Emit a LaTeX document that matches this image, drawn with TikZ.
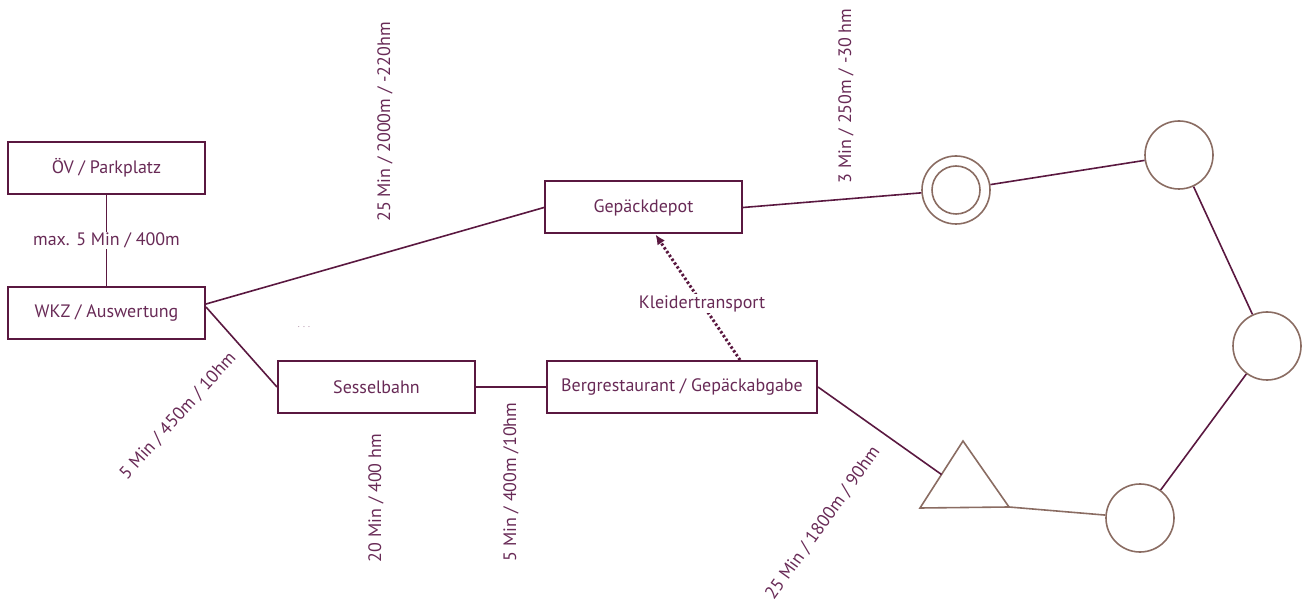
\documentclass[tikz,border=0pt]{standalone}
\usepackage{fontspec}
\setmainfont{PT Sans}
\usetikzlibrary{arrows.meta,calc,positioning}
\definecolor{wine}{RGB}{90,24,64}
\definecolor{winetext}{RGB}{104,42,86}
\definecolor{taupe}{RGB}{138,108,98}
\tikzset{
plan/.style={x=1pt,y=-1pt,line width=1.6pt,draw=wine,
font=\fontsize{18}{21}\selectfont,text=winetext},
station/.style={rectangle,draw=wine,line width=2pt,minimum width=197pt,
minimum height=52pt,inner sep=0pt},
post/.style={circle,draw=taupe,line width=1.6pt,minimum size=68pt,inner sep=0pt},
leg/.style={inner sep=1pt},
leg up/.style={leg,rotate=90},
transport/.style={line width=3pt,dash pattern=on 2.4pt off 2.2pt,
-{Latex[length=10pt,width=9pt]}},
}

\begin{document}
\begin{tikzpicture}[plan]
\useasboundingbox (0,0) rectangle (1307,601);
% Stationen
\node[station] (oev) at (106.5,168) {ÖV / Parkplatz};
\node[station] (wkz) [below=91pt of oev] {WKZ / Auswertung};
\node[station] (lift) at (376.5,387) {Sesselbahn};
\node[station,minimum width=270pt] (berg) [right=70pt of lift] {Bergrestaurant / Gepäckabgabe};
\node[station] (depot) at (643.5,207.5) {Gepäckdepot};

% Posten
\node[post] (cabin) at (956,190) {};
\node[post,minimum size=48pt] (cabin in) at (cabin) {};
\node[post] (peak) at (1179,155) {};
\node[post] (ridge) at (1267,346) {};
\node[post] (hut) at (1140,518) {};
\coordinate (tri top) at (963,441);
\coordinate (tri left) at (920,508);
\coordinate (tri right) at (1009,507);
\coordinate (tri side) at ($(tri top)!0.5!(tri left)$);
\draw[taupe] (tri top) -- (tri left) -- (tri right) -- cycle;

% Wege
\draw (oev) -- node[leg,fill=white] (leg0) {max. 5 Min / 400m} (wkz);
\draw ([yshift=9pt]wkz.east) -- (depot.west);
\draw ([yshift=6pt]wkz.east) -- (lift.west);
\draw (lift.east) -- (berg.west);
\draw (depot.east) -- (cabin);
\draw (cabin) -- (peak);
\draw (peak) -- (ridge);
\draw (ridge) -- (hut);
\draw[taupe] (hut) -- (tri right);
\draw (berg.east) -- (tri side);
\draw[transport] ([xshift=58pt]berg.north) --
  node[leg,fill=white,pos=0.45] (leg6) {Kleidertransport} ([xshift=12pt]depot.south);

% Angaben
\node[leg up] (leg1) at (385,122) {25 Min / 2000m / -220hm};
\node[leg up] (leg2) at (846,96) {3 Min / 250m / -30 hm};
\node[leg up] (leg3) at (376,498) {20 Min / 400 hm};
\node[leg up] (leg4) at (511,482) {5 Min / 400m /10hm};
\node[leg,rotate=48] (leg5) at (178,416) {5 Min / 450m / 10hm};
\node[leg,rotate=54.5] (leg7) at (823,523) {25 Min / 1800m / 90hm};
\node[leg,font=\fontsize{9}{10}\selectfont,text=winetext!60] (dots) at (304,327) {. . .};
\end{tikzpicture}
\end{document}
